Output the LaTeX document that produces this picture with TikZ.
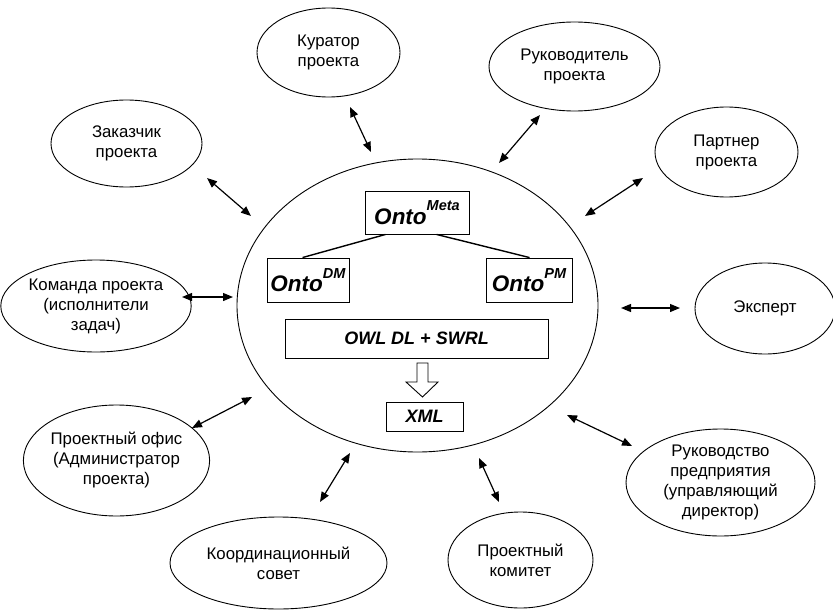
\documentclass[tikz,border=0pt]{standalone}
\usepackage{fontspec}
\setmainfont{Liberation Sans}
\usetikzlibrary{shapes.geometric,arrows.meta,calc}
\tikzset{
  actor/.style={draw, ellipse, line width=0.9pt, inner sep=0pt, align=center,
    font=\fontsize{16.8}{20}\selectfont},
  obox/.style={draw, line width=0.9pt, inner sep=0pt, font=\fontsize{22.5}{22.5}\selectfont\bfseries\itshape},
  sbox/.style={draw, line width=0.9pt, inner sep=0pt, font=\fontsize{18}{18}\selectfont\bfseries\itshape},
  link/.style={line width=1.4pt},
  dbl/.style={line width=1.2pt, {Triangle[length=10pt,width=8pt]}-{Triangle[length=10pt,width=8pt]}}
}
\newcommand{\supr}[1]{\raisebox{13.5pt}{\fontsize{14.5}{14.5}\selectfont #1}}
\begin{document}
\begin{tikzpicture}[x=1pt,y=-1pt]
\useasboundingbox (0,0) rectangle (833,610);
% central ellipse
\node[draw, ellipse, line width=0.9pt, minimum width=361pt, minimum height=293pt] (core) at (417.5,305.5) {};
% boxes
\node[obox, minimum width=104pt, minimum height=43pt] (meta) at (417,212.5) {Onto\supr{Meta}};
\node[obox, minimum width=82pt, minimum height=44pt] (dm) at (308,280) {Onto\supr{DM}};
\node[obox, minimum width=86pt, minimum height=44pt] (pm) at (529,280) {Onto\supr{PM}};
\node[sbox, minimum width=263pt, minimum height=39pt] (owl) at (416.5,338.5) {OWL DL + SWRL};
\node[sbox, minimum width=77pt, minimum height=29pt] (xml) at (424.5,416.5) {XML};
% tree links
\draw[link] ($(meta.south west)+(21,0)$) -- ($(dm.north west)+(36,0)$);
\draw[link] ($(meta.south west)+(72,0)$) -- ($(pm.north west)+(44,0)$);
\draw[link] ($(dm.south west)+(42,0)$) -- ($(dm.south west)+(42,0)$ |- owl.north);
\draw[link] ($(pm.south west)+(47,0)$) -- ($(pm.south west)+(47,0)$ |- owl.north);
% hollow arrow OWL -> XML
\draw[line width=0.9pt, fill=white] (417,363) -- (428,363) -- (428,382) -- (438,382) -- (422.5,397) -- (406,382) -- (417,382) -- cycle;
% satellites
\node[actor, minimum width=143pt, minimum height=89pt] (kur) at (328.5,52.5) {Куратор\\проекта};
\node[actor, minimum width=151pt, minimum height=87pt] (zak) at (126.5,143.5) {Заказчик\\проекта};
\node[actor, minimum width=172pt, minimum height=92pt] (kom) at (96,306) {Команда проекта\\(исполнители\\задач)};
\node[actor, minimum width=171pt, minimum height=89pt] (ruk) at (574.5,66.5) {Руководитель\\проекта};
\node[actor, minimum width=143pt, minimum height=90pt] (par) at (726.5,152) {Партнер\\проекта};
\node[actor, minimum width=140pt, minimum height=91pt] (eks) at (765,308.5) {Эксперт};
\node[actor, minimum width=189pt, minimum height=107pt] (rpr) at (720.5,482.5) {Руководство\\предприятия\\(управляющий\\директор)};
\node[actor, minimum width=145pt, minimum height=96pt] (pkm) at (520.5,560) {Проектный\\комитет};
\node[actor, minimum width=217pt, minimum height=92pt] (kso) at (278.5,563) {Координационный\\совет};
\node[actor, minimum width=181pt, minimum height=111pt] (pof) at (116.5,460.5) {Проектный офис\\(Администратор\\проекта)};
% arrow endpoints
\coordinate (kurA) at (350,107);  \coordinate (kurB) at (371,152);
\coordinate (zakA) at (207,178);  \coordinate (zakB) at (251,216);
\coordinate (komA) at (182,297);  \coordinate (komB) at (233,297);
\coordinate (rukA) at (540,115);  \coordinate (rukB) at (499,163);
\coordinate (parA) at (643,178);  \coordinate (parB) at (585,216);
\coordinate (eksA) at (680,308);  \coordinate (eksB) at (621,308);
\coordinate (rprA) at (632,446);  \coordinate (rprB) at (567,415);
\coordinate (pkmA) at (499,502);  \coordinate (pkmB) at (479,458);
\coordinate (ksoA) at (320,502);  \coordinate (ksoB) at (350,453);
\coordinate (pofA) at (192,428);  \coordinate (pofB) at (252,397);
\foreach \n in {kur,zak,kom,ruk,par,eks,rpr,pkm,kso,pof}
  \draw[dbl] (\n A) -- (\n B);
\end{tikzpicture}
\end{document}
